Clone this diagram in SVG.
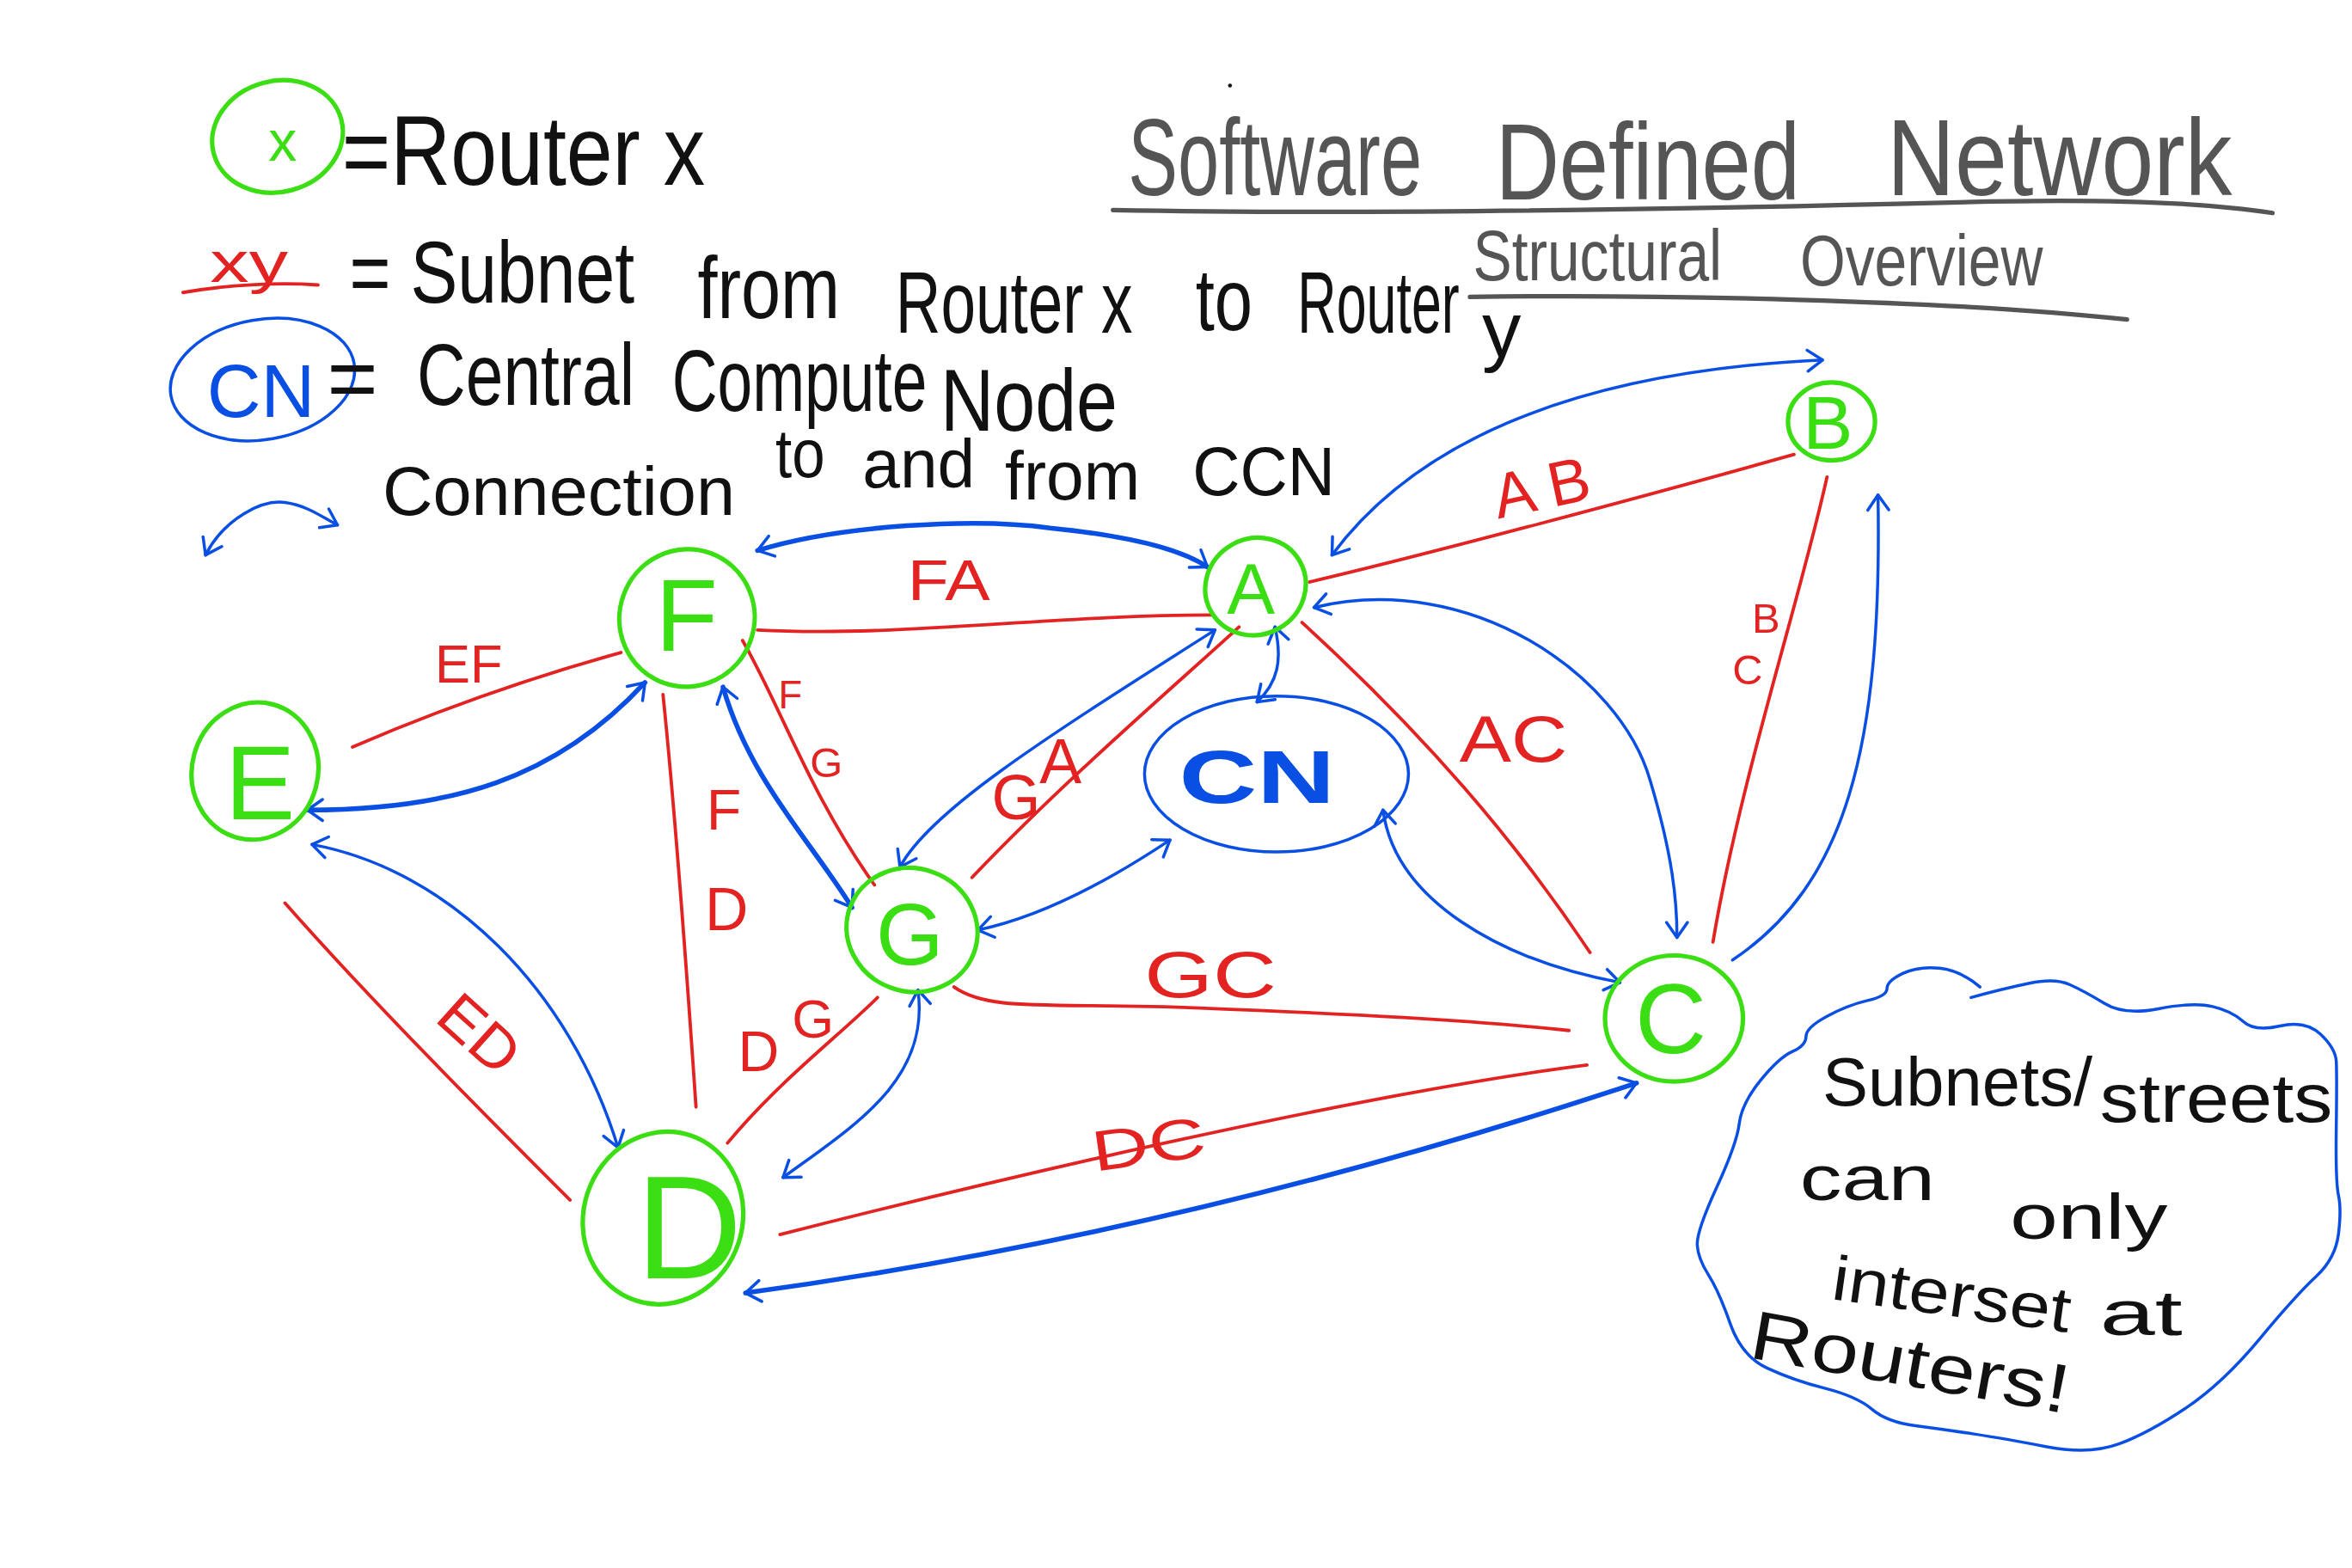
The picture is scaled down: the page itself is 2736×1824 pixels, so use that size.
<svg xmlns="http://www.w3.org/2000/svg" width="2736" height="1824" viewBox="0 0 2736 1824">
<style>
.g{fill:none;stroke:#3ade12;stroke-width:3;stroke-linecap:round}
.r{fill:none;stroke:#e32222;stroke-width:2.2;stroke-linecap:round}
.b{fill:none;stroke:#0a4fe3;stroke-width:2;stroke-linecap:round;stroke-linejoin:round}
.bt{stroke-width:3.2}
.k{fill:none;stroke:#555;stroke-width:3;stroke-linecap:round}
text{font-family:"Liberation Sans Narrow","Liberation Sans",sans-serif}
.tk{fill:#111}
.tr{fill:#e32222}
.tg{fill:#3ade12}
.tb{fill:#0a4fe3}
.tgr{fill:#555}
</style>
<defs>
<marker id="ah" markerUnits="userSpaceOnUse" viewBox="-12 -9 14 18" markerWidth="14" markerHeight="18" refX="0" refY="0" orient="auto-start-reverse">
<path d="M-10,-7 L0,0 L-10,7" fill="none" stroke="#0a4fe3" stroke-width="2" stroke-linecap="round" stroke-linejoin="round"/>
</marker>
</defs>
<rect width="2736" height="1824" fill="#fff"/>
<g transform="scale(1.744898)">

<g id="legend">
<ellipse class="g" cx="185" cy="91" rx="44" ry="37" transform="rotate(-15 185 91)"/>
<text class="tg" x="179" y="107" font-size="38">x</text>
<text class="tk" x="228" y="123" font-size="66" textLength="242" lengthAdjust="spacingAndGlyphs">=Router x</text>
<text class="tr" x="140" y="188" font-size="38" textLength="52" lengthAdjust="spacingAndGlyphs">xy</text>
<path class="r" d="M122,195 C150,190 185,188 212,190" stroke-width="3"/>
<text class="tk" font-size="58">
<tspan x="233" y="202" textLength="190" lengthAdjust="spacingAndGlyphs">= Subnet</tspan>
<tspan x="465" y="212" textLength="95" lengthAdjust="spacingAndGlyphs">from</tspan>
<tspan x="597" y="222" textLength="158" lengthAdjust="spacingAndGlyphs">Router x</tspan>
<tspan x="797" y="220" textLength="38" lengthAdjust="spacingAndGlyphs">to</tspan>
<tspan x="865" y="222" textLength="108" lengthAdjust="spacingAndGlyphs">Router</tspan>
</text>
<text class="tk" x="988" y="238" font-size="52">y</text>
<ellipse class="b" cx="175" cy="253" rx="62" ry="40" stroke-width="3" transform="rotate(-10 175 253)"/>
<text class="tb" x="138" y="278" font-size="50" textLength="72" lengthAdjust="spacingAndGlyphs">CN</text>
<text class="tk" font-size="58">
<tspan x="218" y="272">=</tspan>
<tspan x="278" y="270" textLength="145" lengthAdjust="spacingAndGlyphs">Central</tspan>
<tspan x="448" y="274" textLength="170" lengthAdjust="spacingAndGlyphs">Compute</tspan>
<tspan x="627" y="287" textLength="118" lengthAdjust="spacingAndGlyphs">Node</tspan>
</text>
<path class="b" d="M137,370 C150,345 175,333 190,335 C205,337 215,345 225,350" marker-start="url(#ah)" marker-end="url(#ah)"/>
<text class="tk" font-size="46">
<tspan x="255" y="343" textLength="235" lengthAdjust="spacingAndGlyphs">Connection</tspan>
<tspan x="517" y="318" textLength="33" lengthAdjust="spacingAndGlyphs">to</tspan>
<tspan x="575" y="325" textLength="75" lengthAdjust="spacingAndGlyphs">and</tspan>
<tspan x="670" y="333" textLength="90" lengthAdjust="spacingAndGlyphs">from</tspan>
<tspan x="795" y="330" textLength="95" lengthAdjust="spacingAndGlyphs">CCN</tspan>
</text>
</g>

<g id="title">
<circle cx="820" cy="57" r="1.3" fill="#111"/>
<text class="tgr" font-size="72">
<tspan x="752" y="130" textLength="196" lengthAdjust="spacingAndGlyphs">Software</tspan>
<tspan x="997" y="133" textLength="203" lengthAdjust="spacingAndGlyphs">Defined</tspan>
<tspan x="1258" y="130" textLength="230" lengthAdjust="spacingAndGlyphs">Network</tspan>
</text>
<path class="k" d="M742,140 C900,143 1100,140 1300,135 C1400,132 1470,135 1515,142"/>
<text class="tgr" font-size="48">
<tspan x="982" y="187" textLength="166" lengthAdjust="spacingAndGlyphs">Structural</tspan>
<tspan x="1200" y="190" textLength="162" lengthAdjust="spacingAndGlyphs">Overview</tspan>
</text>
<path class="k" d="M980,198 C1100,196 1300,200 1418,213" stroke-width="2.6"/>
</g>

<g id="connectors">
<!-- red subnets -->
<path class="r" d="M873,388 C950,370 1100,330 1196,303"/>
<path class="r" d="M505,420 C600,425 700,410 808,410"/>
<path class="r" d="M235,498 C300,470 360,450 414,435"/>
<path class="r" d="M495,427 C520,470 540,530 583,590"/>
<path class="r" d="M648,585 C710,520 780,460 826,418"/>
<path class="r" d="M868,415 C950,490 1010,560 1060,635"/>
<path class="r" d="M1218,318 C1200,400 1160,520 1142,628"/>
<path class="r" d="M442,463 C452,560 460,680 464,738"/>
<path class="r" d="M636,658 C660,675 700,668 800,672 C900,676 980,680 1046,687"/>
<path class="r" d="M190,602 C250,670 330,750 380,800"/>
<path class="r" d="M485,762 C520,720 560,690 585,665"/>
<path class="r" d="M520,823 C650,790 900,730 1058,710"/>
<!-- red labels -->
<text class="tr" x="995" y="340" font-size="42" textLength="65" lengthAdjust="spacingAndGlyphs" transform="rotate(-12 1025 325)">A B</text>
<text class="tr" x="605" y="400" font-size="38" textLength="55" lengthAdjust="spacingAndGlyphs">FA</text>
<text class="tr" x="290" y="455" font-size="36" textLength="45" lengthAdjust="spacingAndGlyphs">EF</text>
<text class="tr" x="519" y="472" font-size="26">F</text>
<text class="tr" x="540" y="518" font-size="28">G</text>
<text class="tr" x="661" y="546" font-size="42">G</text>
<text class="tr" x="693" y="522" font-size="42">A</text>
<text class="tr" x="973" y="508" font-size="44" textLength="72" lengthAdjust="spacingAndGlyphs">AC</text>
<text class="tr" x="1168" y="422" font-size="28">B</text>
<text class="tr" x="1155" y="456" font-size="28">C</text>
<text class="tr" x="471" y="553" font-size="38">F</text>
<text class="tr" x="470" y="620" font-size="40">D</text>
<text class="tr" x="763" y="665" font-size="44" textLength="88" lengthAdjust="spacingAndGlyphs">GC</text>
<text class="tr" x="285" y="690" font-size="40" textLength="58" lengthAdjust="spacingAndGlyphs" transform="rotate(42 300 690)">ED</text>
<text class="tr" x="492" y="714" font-size="38">D</text>
<text class="tr" x="528" y="692" font-size="36">G</text>
<text class="tr" x="728" y="776" font-size="38" textLength="76" lengthAdjust="spacingAndGlyphs" transform="rotate(-8 765 765)">DC</text>
<!-- blue connections -->
<path class="b bt" d="M505,367 C560,350 650,345 700,352 C760,358 790,368 805,378" marker-start="url(#ah)" marker-end="url(#ah)"/>
<path class="b" d="M888,370 C940,300 1040,248 1215,240" marker-start="url(#ah)" marker-end="url(#ah)"/>
<path class="b bt" d="M205,540 C300,540 370,520 430,455" marker-start="url(#ah)" marker-end="url(#ah)"/>
<path class="b" d="M208,563 C300,580 380,660 412,765" marker-start="url(#ah)" marker-end="url(#ah)"/>
<path class="b bt" d="M482,458 C500,520 540,560 568,605" marker-start="url(#ah)" marker-end="url(#ah)"/>
<path class="b" d="M600,578 C620,540 700,490 810,420" marker-start="url(#ah)" marker-end="url(#ah)"/>
<path class="b" d="M850,418 C855,440 852,455 838,468" marker-start="url(#ah)" marker-end="url(#ah)"/>
<path class="b" d="M652,620 C700,610 750,580 780,560" marker-start="url(#ah)" marker-end="url(#ah)"/>
<path class="b" d="M876,405 C980,380 1080,450 1100,520 C1115,570 1118,600 1118,625" marker-start="url(#ah)" marker-end="url(#ah)"/>
<path class="b" d="M922,540 C930,600 1000,640 1080,655" marker-start="url(#ah)" marker-end="url(#ah)"/>
<path class="b" d="M612,660 C620,720 570,750 522,785" marker-start="url(#ah)" marker-end="url(#ah)"/>
<path class="b bt" d="M497,862 Q790,822 1091,722" marker-start="url(#ah)" marker-end="url(#ah)"/>
<path class="b" d="M1155,640 C1230,590 1255,500 1252,330" marker-end="url(#ah)"/>
</g>

<g id="node-F"><ellipse class="g" cx="458" cy="412" rx="45" ry="46" transform="rotate(20 458 412)"/><text class="tg" x="437" y="434" font-size="68">F</text></g>
<g id="node-A"><ellipse class="g" cx="837" cy="391" rx="34" ry="32" transform="rotate(-30 837 391)"/><text class="tg" x="818" y="409" font-size="48">A</text></g>
<g id="node-B"><ellipse class="g" cx="1221" cy="281" rx="29" ry="26"/><text class="tg" x="1202" y="299" font-size="50">B</text></g>
<g id="node-E"><ellipse class="g" cx="170" cy="514" rx="42" ry="46" transform="rotate(15 170 514)"/><text class="tg" x="150" y="546" font-size="70">E</text></g>
<g id="node-G"><ellipse class="g" cx="608" cy="620" rx="44" ry="41" transform="rotate(20 608 620)"/><text class="tg" x="584" y="643" font-size="58">G</text></g>
<g id="node-CN"><ellipse class="b" cx="851" cy="516" rx="88" ry="52" stroke-width="3"/><text class="tb" x="786" y="535" font-size="50" font-weight="bold" textLength="104" lengthAdjust="spacingAndGlyphs">CN</text></g>
<g id="node-C"><ellipse class="g" cx="1116" cy="679" rx="46" ry="42"/><text class="tg" x="1090" y="702" font-size="66">C</text></g>
<g id="node-D"><ellipse class="g" cx="442" cy="812" rx="53" ry="58" transform="rotate(18 442 812)"/><text class="tg" x="424" y="852" font-size="98">D</text></g>

<g id="note">
<path class="b" stroke-width="2.4" d="M1314,665 Q1336,659 1353,655.5 Q1370,652 1380,656.5 Q1390,661 1403,669 Q1416,677 1439,672.5 Q1462,668 1475,671 Q1488,674 1495.5,681 Q1503,688 1520,684 Q1537,680 1547,689.5 Q1557,699 1557.5,707.5 Q1558,716 1557.5,752 Q1557,788 1559,797 Q1561,806 1559,822.5 Q1557,839 1544,851 Q1531,863 1506.5,892.5 Q1482,922 1457.5,938.5 Q1433,955 1413,962.5 Q1393,970 1364.5,964.5 Q1336,959 1316,956 Q1296,953 1277,950.5 Q1258,948 1248,939.5 Q1238,931 1216.5,925.5 Q1195,920 1178,912 Q1161,904 1153.5,882.5 Q1146,861 1139,850 Q1132,839 1131.5,830 Q1131,821 1144.5,791.5 Q1158,762 1159.5,749 Q1161,736 1173.5,720.5 Q1186,705 1195,701 Q1204,697 1204,691 Q1204,685 1218,677.5 Q1232,670 1245,667 Q1258,664 1258,659 Q1258,654 1268.5,649 Q1279,644 1293,645.5 Q1307,647 1320,658"/>
<text class="tk" font-size="46">
<tspan x="1215" y="737" textLength="180" lengthAdjust="spacingAndGlyphs">Subnets/</tspan>
<tspan x="1400" y="748" textLength="155" lengthAdjust="spacingAndGlyphs">streets</tspan>
</text>
<text class="tk" font-size="42">
<tspan x="1200" y="800" textLength="90" lengthAdjust="spacingAndGlyphs">can</tspan>
<tspan x="1340" y="826" textLength="105" lengthAdjust="spacingAndGlyphs">only</tspan>
</text>
<text class="tk" x="1220" y="866" font-size="42" textLength="160" lengthAdjust="spacingAndGlyphs" transform="rotate(8 1220 866)">interset</text>
<text class="tk" x="1400" y="890" font-size="42" textLength="55" lengthAdjust="spacingAndGlyphs">at</text>
<text class="tk" x="1165" y="905" font-size="46" textLength="215" lengthAdjust="spacingAndGlyphs" transform="rotate(10 1165 905)">Routers!</text>
</g>

</g>
</svg>
